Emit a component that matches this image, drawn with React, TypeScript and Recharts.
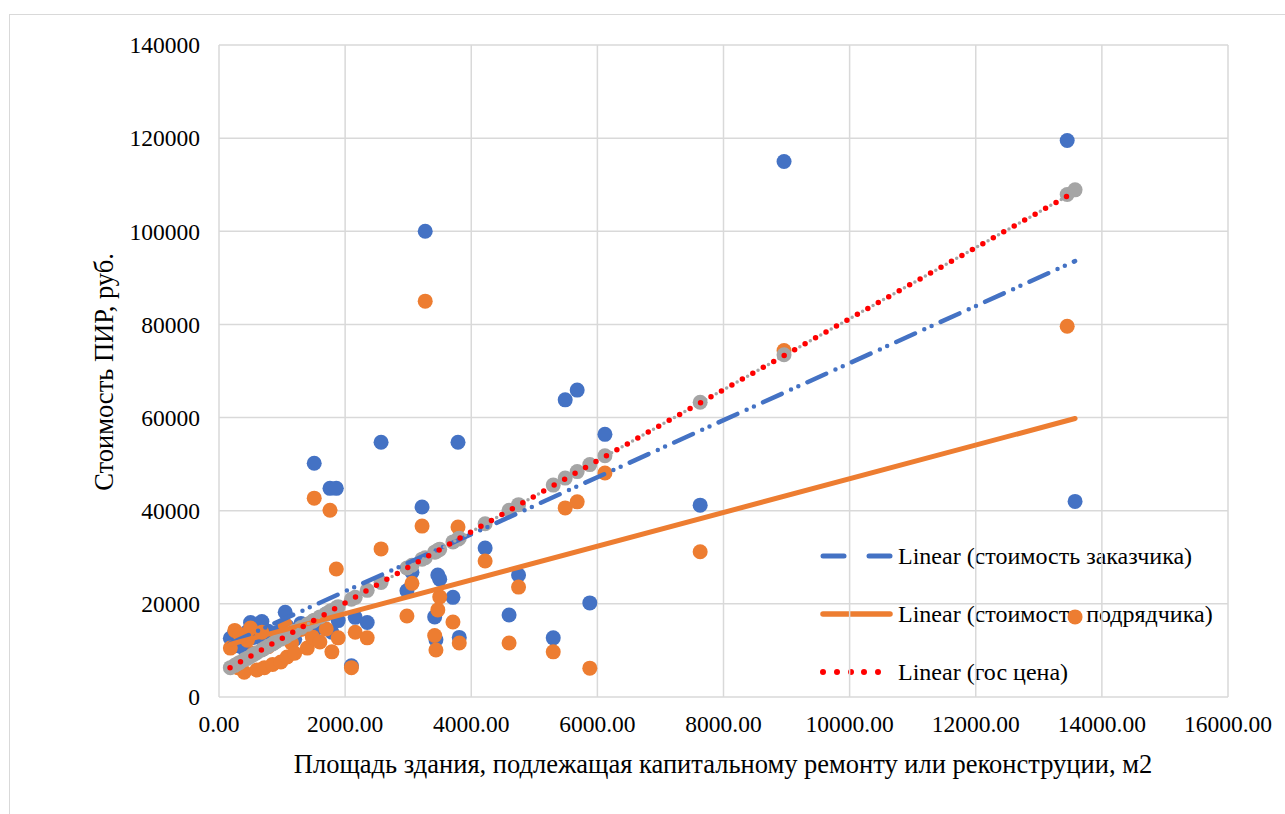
import { ScatterChart, Scatter, XAxis, YAxis, CartesianGrid, ReferenceLine } from "recharts";

const FONT = "'Liberation Serif', 'DejaVu Serif', serif";

// площадь здания, м2
const area = [
  180, 250, 300, 330, 400, 450, 500, 550, 600, 680, 720, 780, 850, 900, 980,
  1050, 1080, 1150, 1200, 1300, 1400, 1480, 1510, 1600, 1700, 1760, 1790, 1860, 1890,
  2100, 2160, 2350, 2570, 2980, 3060, 3220, 3270, 3420, 3440, 3470, 3500, 3710, 3790,
  3810, 4220, 4600, 4750, 5300, 5490, 5680, 5880, 6120, 7630, 8960, 13450, 13575,
];
// стоимость заказчика
const customerCost = [
  12600, 13900, 11000, 12200, 10300, 14000, 16000, 12800, 13100, 16200, 11800, 14100, 12900, 13700, 14300,
  18200, 15200, 13600, 12400, 15800, 14600, 13400, 50200, 15000, 17800, 44800, 13900, 44800, 16400,
  6700, 17100, 16000, 54700, 22800, 26800, 40800, 100000, 17200, 12300, 26200, 25300, 21400, 54700,
  12800, 32000, 17600, 26200, 12700, 63800, 65900, 20200, 56400, 41200, 115000, 119500, 42000,
];
// стоимость подрядчика
const contractorCost = [
  10500, 14300, 6300, 13400, 5300, 12200, 14800, 9400, 5800, 13900, 6300, 10800, 7000, 12000, 7500,
  15500, 8600, 11600, 9400, 14500, 10500, 12900, 42700, 11800, 14600, 40100, 9700, 27500, 12700,
  6300, 13900, 12700, 31800, 17400, 24400, 36700, 85000, 13200, 10100, 18700, 21500, 16100, 36500,
  11600, 29200, 11600, 23600, 9700, 40600, 41900, 6200, 48100, 31200, 74400, 79600, 17200,
];
// гос цена
const govPrice = [
  6300, 6800, 7200, 7400, 8000, 8300, 8700, 9100, 9500, 10100, 10400, 10900, 11400, 11800, 12400,
  12900, 13200, 13700, 14100, 14900, 15600, 16200, 16500, 17200, 17900, 18400, 18600, 19100, 19400,
  21000, 21400, 22900, 24600, 27700, 28300, 29600, 29900, 31100, 31200, 31500, 31700, 33300, 33900,
  34100, 37200, 40100, 41300, 45500, 47000, 48400, 49900, 51800, 63300, 73500, 107900, 108900,
];

// линии тренда (начало и конец)
const trendX = [175, 13575];
const customerTrend = [11500, 93600];
const contractorTrend = [11300, 59800];
const govTrend = [6300, 108500];

const xTicks = [0, 2000, 4000, 6000, 8000, 10000, 12000, 14000, 16000];
const yTicks = [0, 20000, 40000, 60000, 80000, 100000, 120000, 140000];

const toPoints = (ys: number[]) => area.map((x, i) => ({ x, y: ys[i] }));
const seg = (ys: number[]) => [
  { x: trendX[0], y: ys[0] },
  { x: trendX[1], y: ys[1] },
];

const dot = (color: string) => (props: any) => (
  <circle cx={props.cx} cy={props.cy} r={7.5} fill={color} />
);

const BLUE = "#4472C4";
const ORANGE = "#ED7D31";
const GRAY = "#A5A5A5";
const RED = "#FF0000";

const tickStyle = { fill: "#000", fontSize: 23.5, fontFamily: FONT };

function Legend() {
  const rows = [
    { y: 556, label: "Linear (стоимость заказчика)" },
    { y: 614, label: "Linear (стоимость подрядчика)" },
    { y: 672, label: "Linear (гос цена)" },
  ];
  return (
    <svg width={1285} height={814} style={{ position: "absolute", left: 0, top: 0 }}>
      <line x1={823} y1={556} x2={844} y2={556} stroke={BLUE} strokeWidth={5} strokeLinecap="round" />
      <line x1={869} y1={556} x2={890} y2={556} stroke={BLUE} strokeWidth={5} strokeLinecap="round" />
      <line x1={823} y1={614} x2={890} y2={614} stroke={ORANGE} strokeWidth={5.5} strokeLinecap="round" />
      {[823, 837, 851, 864, 878].map((cx) => (
        <circle key={cx} cx={cx} cy={672} r={3} fill={RED} />
      ))}
      {rows.map((r) => (
        <text key={r.label} x={898} y={r.y + 8} style={{ fontFamily: FONT, fontSize: 24 }} fill="#000">
          {r.label}
        </text>
      ))}
    </svg>
  );
}

export default function App() {
  return (
    <div style={{ position: "absolute", left: 0, top: 0, width: 1285, height: 814, overflow: "hidden", background: "#fff", fontFamily: FONT }}>
      <div
        style={{
          position: "absolute",
          left: 9,
          top: 14,
          width: 1290,
          height: 820,
          borderLeft: "1.5px solid #d9d9d9",
          borderTop: "1.5px solid #d9d9d9",
        }}
      />
      <Legend />
      <div style={{ position: "absolute", left: 0, top: 0 }}>
        <ScatterChart width={1285} height={814} margin={{ top: 45, right: 57, bottom: 77, left: 119 }} style={{ fontFamily: FONT }}>
          <CartesianGrid stroke="#d9d9d9" strokeWidth={1.5} />
          <XAxis
            type="number"
            dataKey="x"
            domain={[0, 16000]}
            ticks={xTicks}
            interval={0}
            height={40}
            axisLine={false}
            tickLine={false}
            tickSize={6}
            tickMargin={12}
            tick={tickStyle}
            tickFormatter={(v: number) => v.toFixed(2)}
          />
          <YAxis
            type="number"
            dataKey="y"
            domain={[0, 140000]}
            ticks={yTicks}
            interval={0}
            width={100}
            axisLine={false}
            tickLine={false}
            tickSize={6}
            tickMargin={13}
            tick={tickStyle}
          />
          <Scatter data={toPoints(customerCost)} shape={dot(BLUE)} isAnimationActive={false} />
          <Scatter data={toPoints(contractorCost)} shape={dot(ORANGE)} isAnimationActive={false} />
          <Scatter data={toPoints(govPrice)} shape={dot(GRAY)} isAnimationActive={false} />
          <ReferenceLine
            segment={seg(customerTrend)}
            stroke={BLUE}
            strokeWidth={4.5}
            strokeLinecap="round"
            strokeDasharray="20.5 10.25 0 8 0 10"
            zIndex={700}
          />
          <ReferenceLine segment={seg(contractorTrend)} stroke={ORANGE} strokeWidth={5} strokeLinecap="round" zIndex={700} />
          <ReferenceLine
            segment={seg(govTrend)}
            stroke={GRAY}
            strokeWidth={3.5}
            strokeLinecap="round"
            strokeDasharray="0 12"
            strokeDashoffset={6}
            zIndex={700}
          />
          <ReferenceLine
            segment={seg(govTrend)}
            stroke={RED}
            strokeWidth={5.5}
            strokeLinecap="round"
            strokeDasharray="0 12"
            zIndex={700}
          />
        </ScatterChart>
      </div>
      <div
        style={{
          position: "absolute",
          left: 104,
          top: 372,
          transform: "translate(-50%, -50%) rotate(-90deg)",
          whiteSpace: "nowrap",
          fontSize: 26.5,
          lineHeight: 1,
        }}
      >
        Стоимость ПИР, руб.
      </div>
      <div
        style={{
          position: "absolute",
          left: 723,
          top: 751,
          transform: "translateX(-50%)",
          whiteSpace: "nowrap",
          fontSize: 26.5,
          lineHeight: 1,
        }}
      >
        Площадь здания, подлежащая капитальному ремонту или реконструции, м2
      </div>
    </div>
  );
}
